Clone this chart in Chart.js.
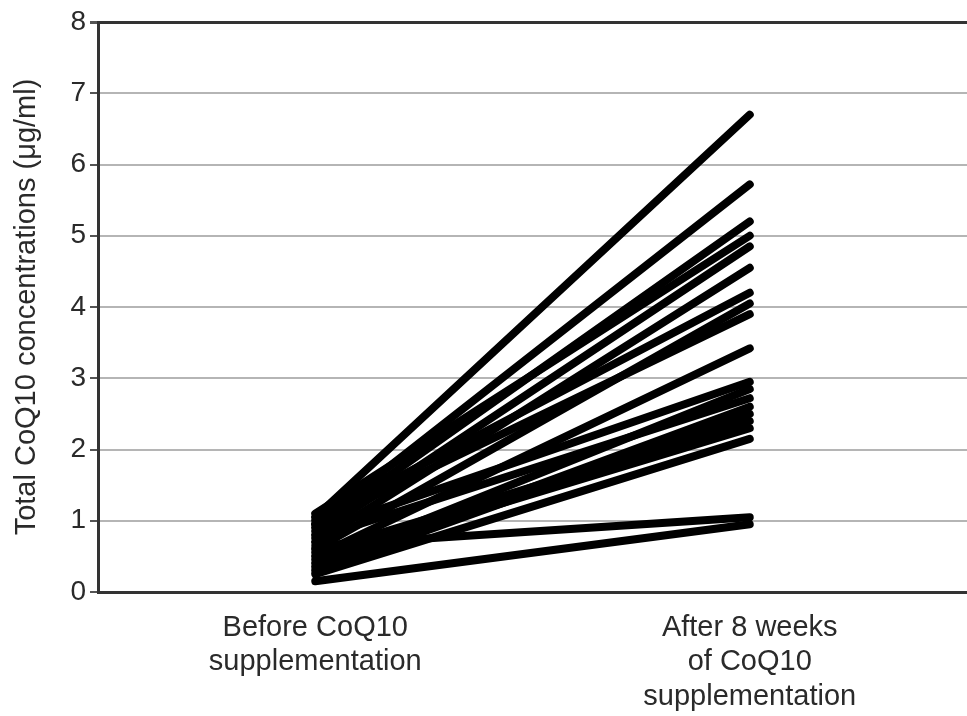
<!DOCTYPE html>
<html>
<head>
<meta charset="utf-8">
<script src="https://cdn.jsdelivr.net/npm/chart.js@4"></script>
<style>
    body { margin: 0; background: #fff; }
    #wrap { width: 967px; height: 716px; }
</style>
</head>
<body>
<div id="wrap"><canvas id="coqChart"></canvas></div>
<script>
// categories
const timePoints = [['Before CoQ10', 'supplementation'], ['After 8 weeks', 'of CoQ10', 'supplementation']];

// each subject: concentration before and after (ug/ml)
const beforeValues = [1.05, 0.95, 0.9, 1.1, 0.8, 0.7, 1.0, 0.6, 0.5, 0.85, 0.4, 0.75, 0.35, 0.3, 0.55, 0.25, 0.65, 0.15, 0.95, 0.45];
const afterValues  = [6.7, 5.72, 5.2, 5.0, 4.85, 4.55, 4.2, 4.05, 3.42, 2.95, 2.85, 2.72, 2.6, 2.5, 2.4, 2.15, 1.05, 0.95, 3.9, 2.3];

const yTicks = [0, 1, 2, 3, 4, 5, 6, 7, 8];

// one dataset per subject
let datasets = beforeValues.map((b, i) => ({
    data: [b, afterValues[i]],
    borderColor: '#000',
    borderWidth: 8,
    borderCapStyle: 'round',
    pointRadius: 0,
    fill: false
}));

new Chart(document.getElementById('coqChart').getContext('2d'), {
    type: 'line',
    data: { labels: timePoints, datasets: datasets },
    options: {
        responsive: true,
        maintainAspectRatio: false,
        animation: false,
        layout: { padding: { top: 22, right: 0, left: 10, bottom: 0 } },
        plugins: { legend: { display: false }, tooltip: { enabled: false } },
        scales: {
            x: {
                offset: true,
                grid: { display: false },
                border: { color: '#333', width: 3 },
                ticks: {
                    color: '#2a2a2a',
                    font: { family: 'Liberation Sans', size: 29, lineHeight: 1.18 },
                    padding: 11,
                    maxRotation: 0
                },
                afterFit: s => { s.height = 124; }
            },
            y: {
                min: 0,
                max: 8,
                afterBuildTicks: s => { s.ticks = yTicks.map(v => ({ value: v })); },
                grid: {
                    color: c => c.tick && c.tick.value === 8 ? '#333' : '#b5b5b5',
                    lineWidth: c => c.tick && c.tick.value === 8 ? 3 : 2,
                    tickLength: 8,
                    tickColor: '#555'
                },
                border: { color: '#333', width: 3 },
                ticks: {
                    color: '#2a2a2a',
                    font: { family: 'Liberation Sans', size: 28 },
                    padding: 4
                },
                title: {
                    display: true,
                    text: 'Total CoQ10 concentrations (μg/ml)',
                    color: '#2a2a2a',
                    font: { family: 'Liberation Sans', size: 29 },
                    padding: { top: 0, bottom: 8 }
                },
                afterFit: s => { s.width = 88; }
            }
        }
    }
});
</script>
</body>
</html>
